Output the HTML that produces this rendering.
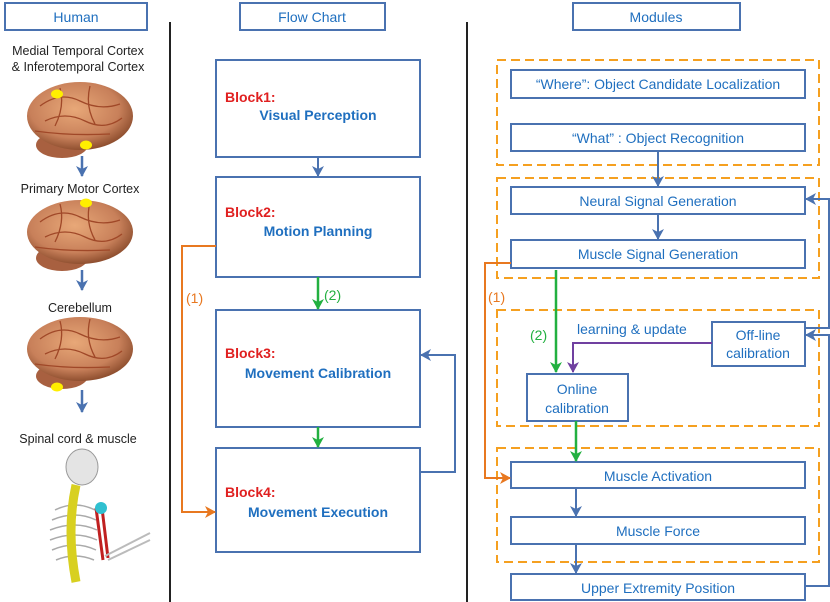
<!DOCTYPE html>
<html><head><meta charset="utf-8"><style>
body{margin:0;background:#fff;}
svg{display:block;font-family:"Liberation Sans",Arial,sans-serif;}
.b{fill:#fff;stroke:#4a72b0;stroke-width:2;}
.t{fill:#1f6fbf;font-size:14px;text-anchor:middle;}
.k{fill:#222;font-size:12.5px;text-anchor:middle;}
.d{fill:none;stroke:#f5a020;stroke-width:2;stroke-dasharray:9,5;}
.g{fill:none;stroke:#a04828;stroke-width:1.3;}
</style></head><body>
<svg width="830" height="602" viewBox="0 0 830 602">
<defs>
<marker id="ab" markerWidth="12" markerHeight="12" refX="10" refY="6" orient="auto" markerUnits="userSpaceOnUse"><path d="M0,0 L11,6 L0,12 L3,6z" fill="#4a72b0"/></marker>
<marker id="ag" markerWidth="12" markerHeight="12" refX="10" refY="6" orient="auto" markerUnits="userSpaceOnUse"><path d="M0,0 L11,6 L0,12 L3,6z" fill="#22b040"/></marker>
<marker id="ao" markerWidth="12" markerHeight="12" refX="10" refY="6" orient="auto" markerUnits="userSpaceOnUse"><path d="M0,0 L11,6 L0,12 L3,6z" fill="#e87820"/></marker>
<marker id="ap" markerWidth="12" markerHeight="12" refX="10" refY="6" orient="auto" markerUnits="userSpaceOnUse"><path d="M0,0 L11,6 L0,12 L3,6z" fill="#7040a0"/></marker>
<radialGradient id="br" cx="45%" cy="40%" r="60%"><stop offset="0" stop-color="#e8a878"/><stop offset="0.7" stop-color="#c8805a"/><stop offset="1" stop-color="#905030"/></radialGradient>
<g id="gy"><path class="g" d="M-40,-10 Q-20,-25 0,-15 T40,-12 M-35,5 Q-15,-5 5,5 T42,2 M-20,-28 Q-15,-10 -25,10 M10,-30 Q5,-10 15,8 M-45,15 Q-10,20 30,18"/></g>
</defs>
<rect class="b" x="5" y="3" width="142" height="27"/><text class="t" x="76" y="22">Human</text>
<rect class="b" x="240" y="3" width="145" height="27"/><text class="t" x="312" y="22">Flow Chart</text>
<rect class="b" x="573" y="3" width="167" height="27"/><text class="t" x="656" y="22">Modules</text>
<line x1="170" y1="22" x2="170" y2="602" stroke="#222" stroke-width="2"/>
<line x1="467" y1="22" x2="467" y2="602" stroke="#222" stroke-width="2"/>
<text class="k" x="78" y="55">Medial Temporal Cortex</text>
<text class="k" x="78" y="71">&amp; Inferotemporal Cortex</text>
<ellipse cx="62" cy="145" rx="26" ry="13" fill="#a86040"/>
<ellipse cx="80" cy="116" rx="53" ry="34" fill="url(#br)"/>
<use href="#gy" x="80" y="116"/>
<ellipse cx="57" cy="94" rx="6" ry="4.5" fill="#ffee00"/><ellipse cx="86" cy="145" rx="6" ry="4.5" fill="#ffee00"/>
<line x1="82" y1="156" x2="82" y2="176" stroke="#4a72b0" stroke-width="2.5" marker-end="url(#ab)"/>
<text class="k" x="80" y="193">Primary Motor Cortex</text>
<ellipse cx="62" cy="258" rx="26" ry="13" fill="#a86040"/>
<ellipse cx="80" cy="232" rx="53" ry="32" fill="url(#br)"/>
<use href="#gy" x="80" y="232"/>
<ellipse cx="86" cy="203" rx="6" ry="4.5" fill="#ffee00"/>
<line x1="82" y1="270" x2="82" y2="290" stroke="#4a72b0" stroke-width="2.5" marker-end="url(#ab)"/>
<text class="k" x="80" y="312">Cerebellum</text>
<ellipse cx="62" cy="376" rx="26" ry="13" fill="#a86040"/>
<ellipse cx="80" cy="349" rx="53" ry="32" fill="url(#br)"/>
<use href="#gy" x="80" y="349"/>
<ellipse cx="57" cy="387" rx="6" ry="4.5" fill="#ffee00"/>
<line x1="82" y1="390" x2="82" y2="412" stroke="#4a72b0" stroke-width="2.5" marker-end="url(#ab)"/>
<text class="k" x="78" y="443">Spinal cord &amp; muscle</text>
<ellipse cx="82" cy="467" rx="16" ry="18" fill="#e4e4e4" stroke="#999"/>
<g stroke="#aaa" stroke-width="1.5" fill="none">
<path d="M55,510 Q75,500 95,510 M52,520 Q75,510 96,520 M50,530 Q75,520 97,530 M50,540 Q75,530 97,540 M52,550 Q75,540 96,550 M56,560 Q75,552 94,560"/>
</g>
<path d="M76,485 Q66,530 76,582" stroke="#d8d020" stroke-width="9" fill="none"/>
<path d="M96,508 L103,560 M102,508 L108,558" stroke="#c02020" stroke-width="3"/>
<path d="M105,556 L150,533 M108,560 L150,540" stroke="#bbb" stroke-width="2"/>
<circle cx="101" cy="508" r="6" fill="#30c0d0"/>
<rect class="b" x="216" y="60" width="204" height="97"/>
<text x="225" y="102" fill="#e02020" font-size="14" font-weight="bold">Block1:</text><text x="318" y="120" class="t" font-weight="bold">Visual Perception</text>
<rect class="b" x="216" y="177" width="204" height="100"/>
<text x="225" y="217" fill="#e02020" font-size="14" font-weight="bold">Block2:</text><text x="318" y="236" class="t" font-weight="bold">Motion Planning</text>
<rect class="b" x="216" y="310" width="204" height="117"/>
<text x="225" y="358" fill="#e02020" font-size="14" font-weight="bold">Block3:</text><text x="318" y="378" class="t" font-weight="bold">Movement Calibration</text>
<rect class="b" x="216" y="448" width="204" height="104"/>
<text x="225" y="497" fill="#e02020" font-size="14" font-weight="bold">Block4:</text><text x="318" y="517" class="t" font-weight="bold">Movement Execution</text>
<line x1="318" y1="157" x2="318" y2="176" stroke="#4a72b0" stroke-width="2" marker-end="url(#ab)"/>
<line x1="318" y1="277" x2="318" y2="309" stroke="#22b040" stroke-width="2.5" marker-end="url(#ag)"/>
<text x="324" y="300" fill="#22b040" font-size="14">(2)</text>
<line x1="318" y1="427" x2="318" y2="447" stroke="#22b040" stroke-width="2.5" marker-end="url(#ag)"/>
<polyline points="216,246 182,246 182,512 215,512" fill="none" stroke="#e87820" stroke-width="2" marker-end="url(#ao)"/>
<text x="186" y="303" fill="#e87820" font-size="14">(1)</text>
<polyline points="420,472 455,472 455,355 421,355" fill="none" stroke="#4a72b0" stroke-width="2" marker-end="url(#ab)"/>
<rect class="d" x="497" y="60" width="322" height="105"/>
<rect class="d" x="497" y="178" width="322" height="100"/>
<rect class="d" x="497" y="310" width="322" height="116"/>
<rect class="d" x="497" y="448" width="322" height="114"/>
<rect class="b" x="511" y="70" width="294" height="28"/><text class="t" x="658" y="89">“Where”: Object Candidate Localization</text>
<rect class="b" x="511" y="124" width="294" height="27"/><text class="t" x="658" y="143">“What” :   Object Recognition</text>
<rect class="b" x="511" y="187" width="294" height="27"/><text class="t" x="658" y="206">Neural Signal Generation</text>
<rect class="b" x="511" y="240" width="294" height="28"/><text class="t" x="658" y="259">Muscle Signal Generation</text>
<rect class="b" x="712" y="322" width="93" height="44"/><text class="t" x="758" y="340">Off-line</text><text class="t" x="758" y="358">calibration</text>
<rect class="b" x="527" y="374" width="101" height="47"/><text class="t" x="577" y="394">Online</text><text class="t" x="577" y="413">calibration</text>
<rect class="b" x="511" y="462" width="294" height="26"/><text class="t" x="658" y="481">Muscle Activation</text>
<rect class="b" x="511" y="517" width="294" height="27"/><text class="t" x="658" y="536">Muscle Force</text>
<rect class="b" x="511" y="574" width="294" height="26"/><text class="t" x="658" y="593">Upper Extremity Position</text>
<line x1="658" y1="151" x2="658" y2="186" stroke="#4a72b0" stroke-width="2" marker-end="url(#ab)"/>
<line x1="658" y1="214" x2="658" y2="239" stroke="#4a72b0" stroke-width="2" marker-end="url(#ab)"/>
<line x1="576" y1="488" x2="576" y2="516" stroke="#4a72b0" stroke-width="2" marker-end="url(#ab)"/>
<line x1="576" y1="544" x2="576" y2="573" stroke="#4a72b0" stroke-width="2" marker-end="url(#ab)"/>
<line x1="556" y1="270" x2="556" y2="372" stroke="#22b040" stroke-width="2.5" marker-end="url(#ag)"/>
<text x="530" y="340" fill="#22b040" font-size="14">(2)</text>
<line x1="576" y1="421" x2="576" y2="461" stroke="#22b040" stroke-width="2.5" marker-end="url(#ag)"/>
<polyline points="712,343 573,343 573,372" fill="none" stroke="#7040a0" stroke-width="2" marker-end="url(#ap)"/>
<text x="577" y="334" fill="#1f6fbf" font-size="14">learning &amp; update</text>
<polyline points="511,263 485,263 485,478 510,478" fill="none" stroke="#e87820" stroke-width="2" marker-end="url(#ao)"/>
<text x="488" y="302" fill="#e87820" font-size="14">(1)</text>
<polyline points="805,586 829,586 829,335 806,335" fill="none" stroke="#4a72b0" stroke-width="2" marker-end="url(#ab)"/>
<polyline points="805,328 829,328 829,199 806,199" fill="none" stroke="#4a72b0" stroke-width="2" marker-end="url(#ab)"/>
</svg>
</body></html>
